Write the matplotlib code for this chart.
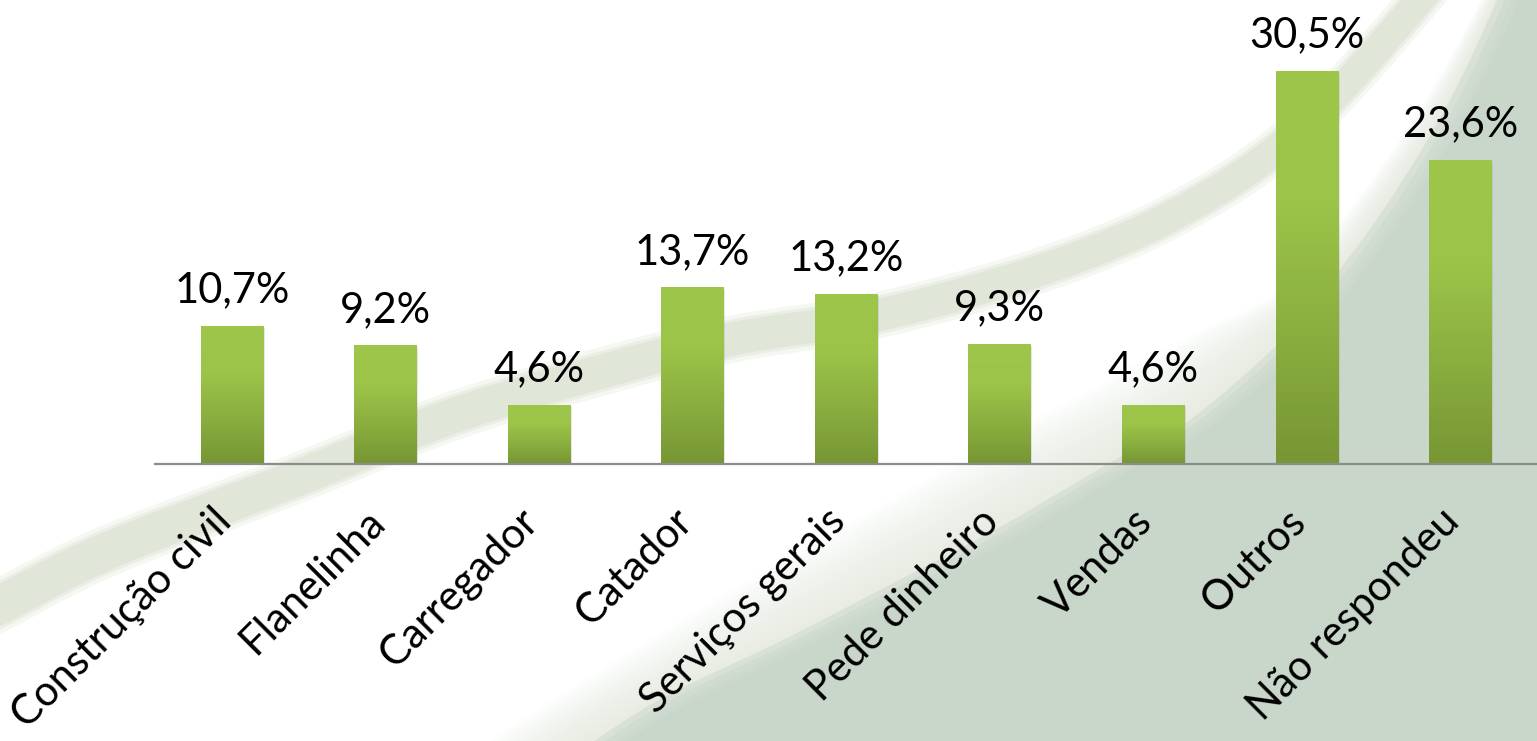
import numpy as np
import matplotlib
matplotlib.use('Agg')
import matplotlib.pyplot as plt
from matplotlib.colors import LinearSegmentedColormap
from matplotlib.patches import Polygon

plt.rcParams['font.family'] = ['Lato', 'DejaVu Sans']

categorias = ['Construção civil', 'Flanelinha', 'Carregador', 'Catador', 'Serviços gerais',
              'Pede dinheiro', 'Vendas', 'Outros', 'Não respondeu']
valores = [10.7, 9.2, 4.6, 13.7, 13.2, 9.3, 4.6, 30.5, 23.6]
rotulos = ['10,7%', '9,2%', '4,6%', '13,7%', '13,2%', '9,3%', '4,6%', '30,5%', '23,6%']

W, H = 1537, 741
fig = plt.figure(figsize=(W / 100, H / 100), dpi=100)
fig.patch.set_facecolor('white')


def smooth(pts, n=40):
    # catmull-rom through a few guide points, background decoration only
    pts = np.array(pts, float)
    P = np.vstack([pts[0], pts, pts[-1]])
    out = []
    for i in range(1, len(P) - 2):
        p0, p1, p2, p3 = P[i - 1], P[i], P[i + 1], P[i + 2]
        t = np.linspace(0, 1, n, endpoint=False)[:, None]
        out.append(0.5 * ((2 * p1) + (-p0 + p2) * t + (2 * p0 - 5 * p1 + 4 * p2 - p3) * t ** 2
                          + (-p0 + 3 * p1 - 3 * p2 + p3) * t ** 3))
    out.append(P[-2][None])
    return np.vstack(out)


def resample(c, n=400):
    d = np.r_[0, np.cumsum(np.hypot(*np.diff(c, axis=0).T))]
    s = np.linspace(0, d[-1], n)
    return np.c_[np.interp(s, d, c[:, 0]), np.interp(s, d, c[:, 1])]


# ---- background swoosh ----
bg = fig.add_axes([0, 0, 1, 1], zorder=0)
bg.set_xlim(0, W)
bg.set_ylim(H, 0)
bg.axis('off')

upper = resample(smooth([(420, 780), (560, 690), (720, 590), (860, 510), (1000, 430), (1183, 335),
                         (1277, 290), (1350, 205), (1420, 105), (1480, 0), (1490, -30)]))
dark = resample(smooth([(540, 780), (650, 705), (783, 640), (880, 590), (1000, 527), (1120, 457),
                        (1183, 425), (1277, 345), (1330, 282), (1390, 200), (1450, 100),
                        (1497, 0), (1505, -30)]))
corner = np.array([[1600, -40], [1600, 800]])

nlev = 14
for k in range(nlev):
    f = (k + 1) / nlev
    c = upper + (dark - upper) * f
    bg.add_patch(Polygon(np.vstack([c, corner]), closed=True,
                         facecolor='#e2e7da', edgecolor='none', alpha=0.08))
for k in range(4):
    c = dark + np.array([6, 3]) * k
    bg.add_patch(Polygon(np.vstack([c, corner]), closed=True,
                         facecolor='#c9d7cb', edgecolor='none', alpha=0.45 if k < 3 else 1.0))

band = resample(smooth([(-20, 615), (0, 605), (110, 550), (300, 477), (450, 417), (600, 372),
                        (733, 339), (883, 314), (1050, 267), (1183, 210), (1300, 130),
                        (1420, 0), (1440, -30)]), 600)
tang = np.gradient(band, axis=0)
tang /= np.hypot(tang[:, 0], tang[:, 1])[:, None]
norm = np.c_[-tang[:, 1], tang[:, 0]]
wid = np.linspace(19, 14, len(band))[:, None]
for extra, a in [(7, 0.3), (3, 0.5), (0, 1.0)]:
    ww = wid + extra
    poly = np.vstack([band + norm * ww, (band - norm * ww)[::-1]])
    bg.add_patch(Polygon(poly, closed=True, facecolor='#e0e6d8', edgecolor='none', alpha=a))

# ---- chart ----
px_per_unit = 393 / 30.5
ax = fig.add_axes([155 / W, (H - 464) / H, 1 - 155 / W, 464 / H], zorder=1)
ax.patch.set_alpha(0)

x = np.arange(len(categorias))
bars = ax.bar(x, valores, width=0.405, color='none', zorder=2)
cmap = LinearSegmentedColormap.from_list('verde', ['#779634', '#8aae3f', '#9cc449', '#9ec64b'])
grad = np.linspace(0, 1, 256)[:, None]
for b in bars:
    x0, w, h = b.get_x(), b.get_width(), b.get_height()
    sh = plt.Rectangle((x0 + 0.012, 0), w, h - 0.15, facecolor='#7f7f7f', alpha=0.18,
                       edgecolor='none', zorder=1.5)
    ax.add_patch(sh)
    im = ax.imshow(grad, extent=[x0, x0 + w, 0, h], origin='lower', aspect='auto',
                   cmap=cmap, zorder=2)
    im.set_clip_path(b)

for xi, v, r in zip(x, valores, rotulos):
    ax.annotate(r, (xi, v), xytext=(0, 17), textcoords='offset points',
                ha='center', va='baseline', fontsize=30, color='black')

ax.set_xlim(-0.5, len(categorias) - 0.5)
ax.set_ylim(0, 464 / px_per_unit)
for s in ['top', 'right', 'left']:
    ax.spines[s].set_visible(False)
ax.spines['bottom'].set_color('#8c8c8c')
ax.spines['bottom'].set_linewidth(1.6)
ax.set_yticks([])
ax.set_xticks(x)
ax.set_xticklabels([])
ax.tick_params(axis='x', length=0)

for xi, c in zip(x, categorias):
    ax.annotate(c, (xi, 0), xytext=(-5, -37), textcoords='offset points', rotation=45,
                ha='right', va='center', rotation_mode='anchor', fontsize=30, color='black',
                annotation_clip=False)

fig.savefig('out.png', dpi=100)
